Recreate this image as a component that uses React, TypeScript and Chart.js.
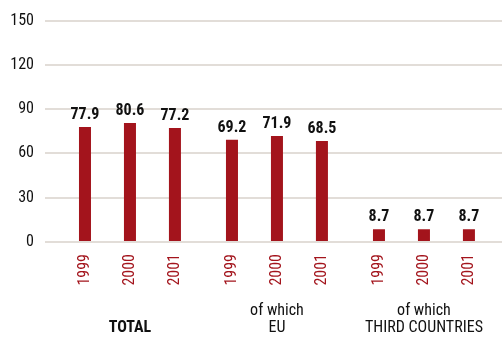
import React, { useEffect, useRef } from "react";
import { Chart, registerables } from "chart.js";

Chart.register(...registerables);

const groupLabels: string[][] = [["", "TOTAL"], ["of which", "EU"], ["of which", "THIRD COUNTRIES"]];
const years = ["1999", "2000", "2001"];
const values1999 = [77.9, 69.2, 8.7];
const values2000 = [80.6, 71.9, 8.7];
const values2001 = [77.2, 68.5, 8.7];
const yTicks = [0, 30, 60, 90, 120, 150];

const RED = "#A3141C";
const FONT = "'Roboto Condensed', 'DejaVu Sans Condensed', sans-serif";

export default function App() {
  const ref = useRef<HTMLCanvasElement | null>(null);

  useEffect(() => {
    document.body.style.margin = "0";
    const canvas = ref.current;
    if (!canvas) return;
    const series = [values1999, values2000, values2001];

    const labelPlugin = {
      id: "labels",
      afterDatasetsDraw(chart: any) {
        const ctx = chart.ctx;
        const bottom = chart.chartArea.bottom;
        chart.data.datasets.forEach((ds: any, di: number) => {
          const meta = chart.getDatasetMeta(di);
          meta.data.forEach((el: any, i: number) => {
            const v = ds.data[i].y;
            ctx.save();
            ctx.fillStyle = "#111";
            ctx.font = `bold 16px ${FONT}`;
            ctx.textAlign = "center";
            ctx.textBaseline = "alphabetic";
            ctx.fillText(v.toFixed(1), el.x, el.y - 8);
            ctx.restore();

            ctx.save();
            ctx.fillStyle = RED;
            ctx.font = `16px ${FONT}`;
            ctx.translate(el.x, bottom + 12);
            ctx.rotate(-Math.PI / 2);
            ctx.textAlign = "right";
            ctx.textBaseline = "middle";
            ctx.fillText(ds.label, 0, 0);
            ctx.restore();
          });
        });
      },
    };

    const chart = new Chart(canvas, {
      type: "bar",
      data: {
        datasets: years.map((yr, k) => ({
          label: yr,
          data: series[k].map((v, i) => ({ x: i, y: v })),
          backgroundColor: RED,
          categoryPercentage: 0.918,
          barPercentage: 0.267,
        })),
      },
      options: {
        animation: false,
        responsive: false,
        layout: { padding: { top: 7, right: 0, left: 0, bottom: 0 } },
        plugins: { legend: { display: false }, tooltip: { enabled: false } },
        scales: {
          x: {
            type: "linear",
            offset: false,
            min: -0.578,
            max: 2.531,
            grid: { display: false },
            border: { display: false },
            afterBuildTicks: (scale: any) => {
              scale.ticks = groupLabels.map((_, i) => ({ value: i }));
            },
            afterFit: (scale: any) => {
              scale.height = 96;
              scale.paddingLeft = 0;
              scale.paddingRight = 0;
            },
            ticks: {
              autoSkip: false,
              maxRotation: 0,
              minRotation: 0,
              padding: 52,
              color: "#111",
              font: (c: any) => ({
                family: FONT,
                size: 16,
                lineHeight: 1.08,
                weight: c.index === 0 ? "bold" : "normal",
              }),
              callback: (_v: any, i: number) => groupLabels[i],
            },
          },
          y: {
            min: 0,
            max: 150,
            afterBuildTicks: (scale: any) => {
              scale.ticks = yTicks.map((v) => ({ value: v }));
            },
            afterFit: (scale: any) => {
              scale.width = 45;
            },
            grid: { color: "#e2ddd8", lineWidth: 2, drawTicks: false },
            border: { display: false },
            ticks: {
              padding: 11,
              color: "#111",
              font: { family: FONT, size: 16 },
            },
          },
        },
      },
      plugins: [labelPlugin],
    } as any);

    return () => chart.destroy();
  }, []);

  return (
    <div style={{ width: 502, height: 338 }}>
      <canvas ref={ref} width={502} height={338} />
    </div>
  );
}
